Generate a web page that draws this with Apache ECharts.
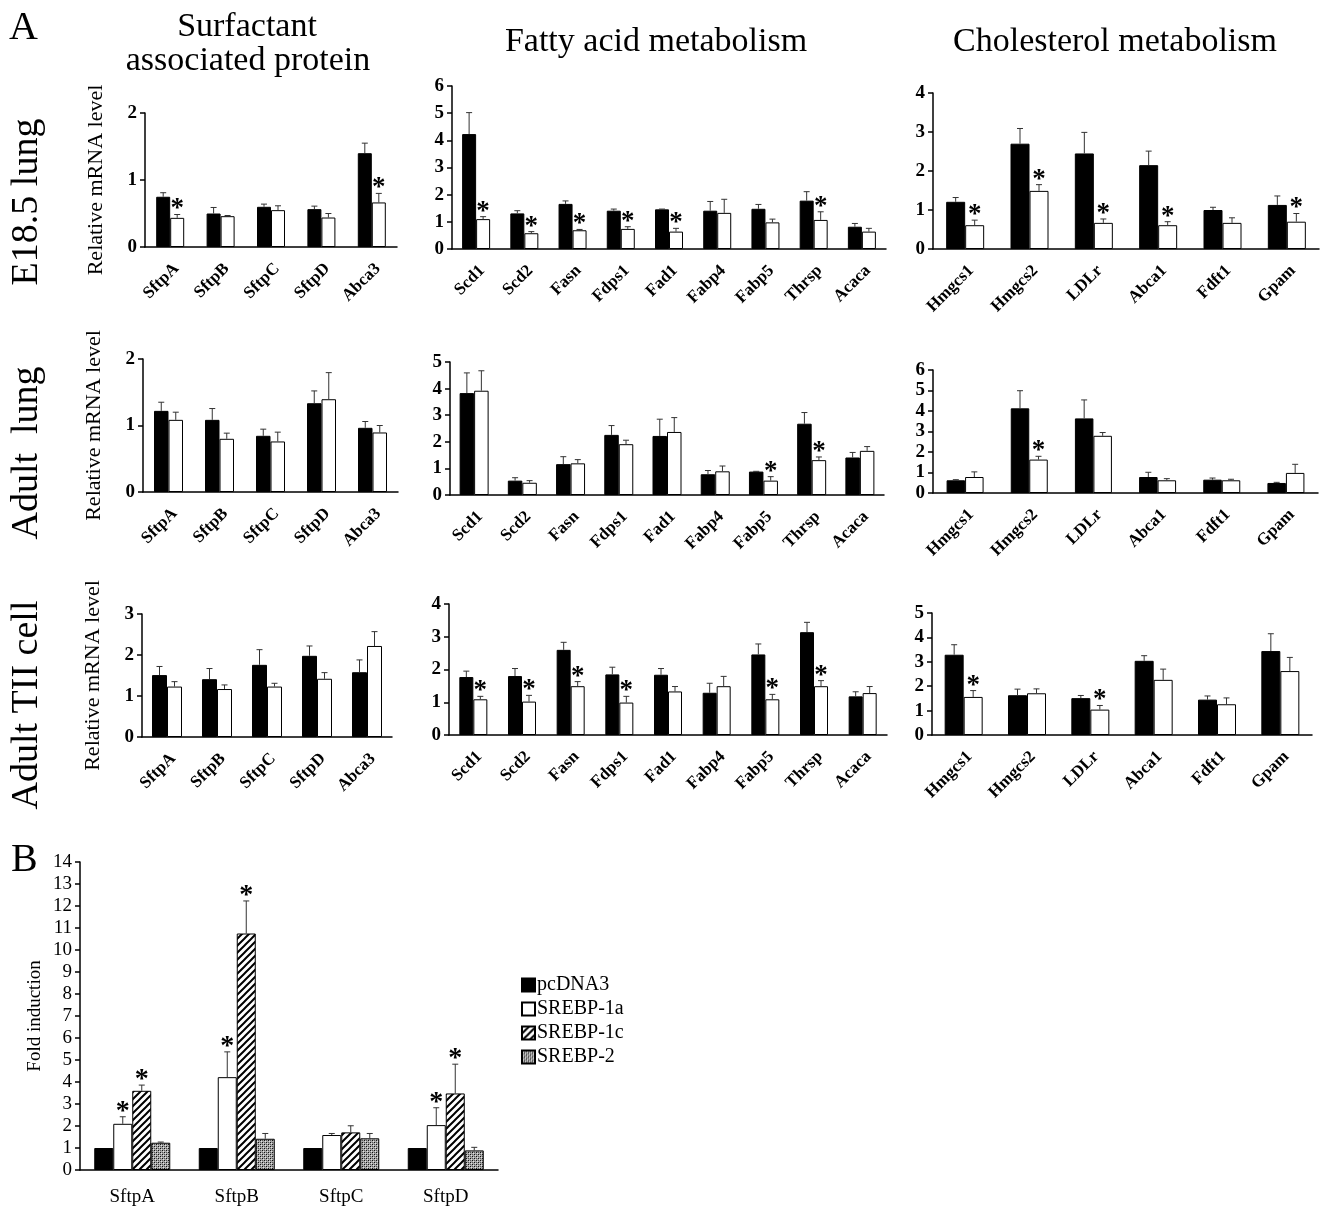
<!DOCTYPE html>
<html><head><meta charset="utf-8">
<script src="https://cdn.jsdelivr.net/npm/echarts@6/dist/echarts.min.js"></script>
<style>html,body{margin:0;padding:0;background:#fff}#c{width:1325px;height:1207px}</style>
</head><body><div id="c"></div>
<script>
// ---------- categories ----------
const surfGenes = ['SftpA', 'SftpB', 'SftpC', 'SftpD', 'Abca3'];
const fattyGenes = ['Scd1', 'Scd2', 'Fasn', 'Fdps1', 'Fad1', 'Fabp4', 'Fabp5', 'Thrsp', 'Acaca'];
const cholGenes = ['Hmgcs1', 'Hmgcs2', 'LDLr', 'Abca1', 'Fdft1', 'Gpam'];

// ---------- E18.5 lung ----------
const e18SurfCtrl = [0.75, 0.50, 0.60, 0.565, 1.40];
const e18SurfCtrlErr = [0.06, 0.09, 0.04, 0.045, 0.15];
const e18SurfKO = [0.435, 0.46, 0.55, 0.44, 0.665];
const e18SurfKOErr = [0.05, 0.01, 0.065, 0.06, 0.135];
const e18SurfStar = [1, 0, 0, 0, 1];

const e18FatCtrl = [4.23, 1.31, 1.66, 1.41, 1.46, 1.41, 1.48, 1.78, 0.82];
const e18FatCtrlErr = [0.79, 0.10, 0.11, 0.06, 0.01, 0.34, 0.16, 0.33, 0.12];
const e18FatKO = [1.10, 0.58, 0.69, 0.74, 0.64, 1.33, 0.98, 1.07, 0.64];
const e18FatKOErr = [0.09, 0.06, 0.03, 0.08, 0.12, 0.50, 0.12, 0.30, 0.12];
const e18FatStar = [1, 1, 1, 1, 1, 0, 0, 1, 0];

const e18CholCtrl = [1.21, 2.70, 2.45, 2.15, 1.00, 1.13];
const e18CholCtrlErr = [0.11, 0.39, 0.54, 0.36, 0.07, 0.23];
const e18CholKO = [0.61, 1.49, 0.67, 0.61, 0.67, 0.70];
const e18CholKOErr = [0.13, 0.16, 0.10, 0.09, 0.13, 0.21];
const e18CholStar = [1, 1, 1, 1, 0, 1];

// ---------- Adult lung ----------
const adSurfCtrl = [1.22, 1.085, 0.845, 1.335, 0.965];
const adSurfCtrlErr = [0.13, 0.17, 0.10, 0.185, 0.095];
const adSurfKO = [1.085, 0.80, 0.76, 1.395, 0.895];
const adSurfKOErr = [0.115, 0.085, 0.14, 0.40, 0.105];
const adSurfStar = [0, 0, 0, 0, 0];

const adFatCtrl = [3.83, 0.54, 1.16, 2.26, 2.22, 0.78, 0.88, 2.68, 1.41];
const adFatCtrlErr = [0.76, 0.11, 0.28, 0.35, 0.63, 0.14, 0.01, 0.42, 0.19];
const adFatKO = [3.92, 0.46, 1.19, 1.91, 2.37, 0.89, 0.54, 1.31, 1.66];
const adFatKOErr = [0.75, 0.08, 0.14, 0.15, 0.54, 0.20, 0.15, 0.12, 0.16];
const adFatStar = [0, 0, 0, 0, 0, 0, 1, 1, 0];

const adCholCtrl = [0.62, 4.13, 3.64, 0.78, 0.65, 0.49];
const adCholCtrlErr = [0.03, 0.86, 0.90, 0.23, 0.08, 0.03];
const adCholKO = [0.78, 1.63, 2.79, 0.62, 0.62, 0.98];
const adCholKOErr = [0.25, 0.16, 0.16, 0.08, 0.05, 0.42];
const adCholStar = [0, 1, 0, 0, 0, 0];

// ---------- Adult TII cell ----------
const tiiSurfCtrl = [1.51, 1.41, 1.76, 1.98, 1.58];
const tiiSurfCtrlErr = [0.21, 0.26, 0.37, 0.24, 0.30];
const tiiSurfKO = [1.23, 1.17, 1.23, 1.42, 2.22];
const tiiSurfKOErr = [0.12, 0.10, 0.08, 0.15, 0.35];
const tiiSurfStar = [0, 0, 0, 0, 0];

const tiiFatCtrl = [1.77, 1.80, 2.60, 1.85, 1.84, 1.29, 2.46, 3.14, 1.18];
const tiiFatCtrlErr = [0.18, 0.23, 0.23, 0.22, 0.19, 0.29, 0.32, 0.30, 0.14];
const tiiFatKO = [1.09, 1.02, 1.49, 0.99, 1.33, 1.49, 1.09, 1.49, 1.28];
const tiiFatKOErr = [0.09, 0.19, 0.14, 0.19, 0.15, 0.30, 0.15, 0.17, 0.20];
const tiiFatStar = [1, 1, 1, 1, 0, 0, 1, 1, 0];

const tiiCholCtrl = [3.29, 1.63, 1.51, 3.04, 1.45, 3.44];
const tiiCholCtrlErr = [0.41, 0.25, 0.11, 0.21, 0.15, 0.71];
const tiiCholKO = [1.56, 1.71, 1.04, 2.26, 1.26, 2.62];
const tiiCholKOErr = [0.26, 0.18, 0.17, 0.44, 0.26, 0.56];
const tiiCholStar = [1, 0, 1, 0, 0, 0];

// ---------- Panel B ----------
const bGenes = ['SftpA', 'SftpB', 'SftpC', 'SftpD'];
const bSeriesNames = ['pcDNA3', 'SREBP-1a', 'SREBP-1c', 'SREBP-2'];
const bPcDNA3 = [1.0, 1.0, 1.0, 1.0];
const bPcDNA3Err = [0, 0, 0, 0];
const bSrebp1a = [2.10, 4.22, 1.59, 2.04];
const bSrebp1aErr = [0.32, 1.15, 0.07, 0.79];
const bSrebp1c = [3.60, 10.75, 1.71, 3.48];
const bSrebp1cErr = [0.26, 1.48, 0.30, 1.33];
const bSrebp2 = [1.24, 1.42, 1.44, 0.89];
const bSrebp2Err = [0.03, 0.24, 0.22, 0.14];
const bStar1a = [1, 1, 0, 1];
const bStar1c = [1, 1, 0, 1];

// ---------- layout (positions / styles only) ----------
const SERIF = '"Liberation Serif", "DejaVu Serif", serif';
const panelsA = [
  { genes: surfGenes, c: e18SurfCtrl, ce: e18SurfCtrlErr, k: e18SurfKO, ke: e18SurfKOErr, s: e18SurfStar, max: 2, g: { left: 145, top: 113, width: 252, height: 134 }, bw: 14, yName: true },
  { genes: fattyGenes, c: e18FatCtrl, ce: e18FatCtrlErr, k: e18FatKO, ke: e18FatKOErr, s: e18FatStar, max: 6, g: { left: 452, top: 86, width: 434, height: 163 }, bw: 14 },
  { genes: cholGenes, c: e18CholCtrl, ce: e18CholCtrlErr, k: e18CholKO, ke: e18CholKOErr, s: e18CholStar, max: 4, g: { left: 933, top: 93, width: 386, height: 156 }, bw: 19 },
  { genes: surfGenes, c: adSurfCtrl, ce: adSurfCtrlErr, k: adSurfKO, ke: adSurfKOErr, s: adSurfStar, max: 2, g: { left: 143, top: 359, width: 255, height: 133 }, bw: 14.5, yName: true },
  { genes: fattyGenes, c: adFatCtrl, ce: adFatCtrlErr, k: adFatKO, ke: adFatKOErr, s: adFatStar, max: 5, g: { left: 450, top: 362, width: 434, height: 133 }, bw: 14.5 },
  { genes: cholGenes, c: adCholCtrl, ce: adCholCtrlErr, k: adCholKO, ke: adCholKOErr, s: adCholStar, max: 6, g: { left: 933, top: 370, width: 385, height: 123 }, bw: 18.5 },
  { genes: surfGenes, c: tiiSurfCtrl, ce: tiiSurfCtrlErr, k: tiiSurfKO, ke: tiiSurfKOErr, s: tiiSurfStar, max: 3, g: { left: 142, top: 614, width: 250, height: 123 }, bw: 15, yName: true },
  { genes: fattyGenes, c: tiiFatCtrl, ce: tiiFatCtrlErr, k: tiiFatKO, ke: tiiFatKOErr, s: tiiFatStar, max: 4, g: { left: 449, top: 604, width: 438, height: 131 }, bw: 14 },
  { genes: cholGenes, c: tiiCholCtrl, ce: tiiCholCtrlErr, k: tiiCholKO, ke: tiiCholKOErr, s: tiiCholStar, max: 5, g: { left: 932, top: 613, width: 380, height: 122 }, bw: 19 }
];

function hatchPattern() {
  const s = 7, c = document.createElement('canvas');
  c.width = s; c.height = s;
  const g = c.getContext('2d');
  g.fillStyle = '#fff'; g.fillRect(0, 0, s, s);
  g.strokeStyle = '#000'; g.lineWidth = 2;
  g.beginPath();
  g.moveTo(-1, s + 1); g.lineTo(s + 1, -1);
  g.moveTo(-1, 1); g.lineTo(1, -1);
  g.moveTo(s - 1, s + 1); g.lineTo(s + 1, s - 1);
  g.stroke();
  return { image: c, repeat: 'repeat' };
}
function dotPattern() {
  const c = document.createElement('canvas');
  c.width = 4; c.height = 4;
  const g = c.getContext('2d');
  g.fillStyle = '#a8a8a8'; g.fillRect(0, 0, 4, 4);
  g.fillStyle = '#111';
  g.fillRect(0, 0, 1, 1); g.fillRect(2, 2, 1, 1);
  g.fillStyle = '#555';
  g.fillRect(2, 0, 1, 1); g.fillRect(0, 2, 1, 1);
  g.fillStyle = '#e0e0e0';
  g.fillRect(1, 1, 1, 1); g.fillRect(3, 3, 1, 1);
  return { image: c, repeat: 'repeat' };
}

function errRenderer(offsetFactor, barW, starFont, starLift) {
  return function (params, api) {
    const idx = api.value(0), v = api.value(1), e = api.value(2), star = api.value(3);
    const base = api.coord([idx, v]);
    const top = api.coord([idx, v + e]);
    const cx = base[0] + offsetFactor * barW;
    const children = [];
    if (e > 0) {
      children.push(
        { type: 'line', shape: { x1: cx, y1: base[1], x2: cx, y2: top[1] }, style: { stroke: '#333', lineWidth: 1 } },
        { type: 'line', shape: { x1: cx - 3, y1: top[1], x2: cx + 3, y2: top[1] }, style: { stroke: '#333', lineWidth: 1 } }
      );
    }
    if (star) {
      children.push({ type: 'text', x: cx, y: top[1] - starLift,
        style: { text: '*', font: starFont, fill: '#000', align: 'center', verticalAlign: 'middle' } });
    }
    return { type: 'group', children };
  };
}

const grids = [], xAxes = [], yAxes = [], series = [];
panelsA.forEach((p, i) => {
  grids.push(Object.assign({ containLabel: false }, p.g));
  xAxes.push({
    type: 'category', gridIndex: i, data: p.genes,
    axisLine: { lineStyle: { color: '#000', width: 1.5 } },
    axisTick: { show: false },
    axisLabel: { rotate: 45, margin: 13, verticalAlign: 'top', color: '#000', fontFamily: SERIF, fontWeight: 'bold', fontSize: 17, interval: 0 }
  });
  yAxes.push({
    type: 'value', gridIndex: i, min: 0, max: p.max, interval: 1,
    name: p.yName ? 'Relative mRNA level' : '', nameLocation: 'middle', nameGap: 38,
    nameTextStyle: { fontFamily: SERIF, fontSize: 22, color: '#000' },
    splitLine: { show: false },
    axisLine: { show: true, lineStyle: { color: '#000', width: 1.5 } },
    axisTick: { show: true, length: 5, lineStyle: { color: '#000', width: 1.5 } },
    axisLabel: { margin: 8, color: '#000', fontFamily: SERIF, fontWeight: 'bold', fontSize: 19,
      showMinLabel: true, showMaxLabel: true, hideOverlap: false }
  });
  series.push({
    type: 'bar', xAxisIndex: i, yAxisIndex: i, data: p.c, barWidth: p.bw, barGap: '0%',
    itemStyle: { color: '#000', borderColor: '#000', borderWidth: 1 }, silent: true
  });
  series.push({
    type: 'bar', xAxisIndex: i, yAxisIndex: i, data: p.k, barWidth: p.bw, barGap: '0%',
    itemStyle: { color: '#fff', borderColor: '#000', borderWidth: 1 }, silent: true
  });
  series.push({
    type: 'custom', xAxisIndex: i, yAxisIndex: i, z: 5, silent: true,
    renderItem: errRenderer(-0.5, p.bw, 'bold 27px ' + SERIF, 5),
    data: p.genes.map((g, j) => [j, p.c[j], p.ce[j], 0])
  });
  series.push({
    type: 'custom', xAxisIndex: i, yAxisIndex: i, z: 5, silent: true,
    renderItem: errRenderer(0.5, p.bw, 'bold 27px ' + SERIF, 5),
    data: p.genes.map((g, j) => [j, p.k[j], p.ke[j], p.s[j]])
  });
});

// Panel B
const bi = panelsA.length;
const bBW = 19;
grids.push({ left: 80, top: 862, width: 418, height: 308, containLabel: false });
xAxes.push({
  type: 'category', gridIndex: bi, data: bGenes,
  axisLine: { lineStyle: { color: '#000', width: 1.5 } },
  axisTick: { show: false },
  axisLabel: { margin: 18, color: '#000', fontFamily: SERIF, fontSize: 19 }
});
yAxes.push({
  type: 'value', gridIndex: bi, min: 0, max: 14, interval: 1,
  name: 'Fold induction', nameLocation: 'middle', nameGap: 35,
  nameTextStyle: { fontFamily: SERIF, fontSize: 19, color: '#000' },
  splitLine: { show: false },
  axisLine: { show: true, lineStyle: { color: '#000', width: 1.5 } },
  axisTick: { show: true, length: 5, lineStyle: { color: '#000', width: 1.5 } },
  axisLabel: { margin: 8, color: '#000', fontFamily: SERIF, fontSize: 19,
    showMinLabel: true, showMaxLabel: true, hideOverlap: false }
});
const bVals = [bPcDNA3, bSrebp1a, bSrebp1c, bSrebp2];
const bErrs = [bPcDNA3Err, bSrebp1aErr, bSrebp1cErr, bSrebp2Err];
const bStars = [[0, 0, 0, 0], bStar1a, bStar1c, [0, 0, 0, 0]];
const bColors = ['#000', '#fff', hatchPattern(), dotPattern()];
bVals.forEach((vals, k) => {
  series.push({
    name: bSeriesNames[k], type: 'bar', xAxisIndex: bi, yAxisIndex: bi, data: vals,
    barWidth: bBW, barGap: '0%', silent: true,
    itemStyle: { color: bColors[k], borderColor: '#000', borderWidth: 1 }
  });
});
bVals.forEach((vals, k) => {
  series.push({
    type: 'custom', xAxisIndex: bi, yAxisIndex: bi, z: 5, silent: true,
    renderItem: errRenderer(k - 1.5, bBW, 'bold 28px ' + SERIF, 5),
    data: bGenes.map((g, j) => [j, vals[j], bErrs[k][j], bStars[k][j]])
  });
});

const chart = echarts.init(document.getElementById('c'), null, { renderer: 'canvas' });
chart.setOption({
  animation: false,
  backgroundColor: '#fff',
  grid: grids, xAxis: xAxes, yAxis: yAxes, series: series,
  legend: {
    data: bSeriesNames, orient: 'vertical', left: 516, top: 970,
    itemWidth: 13, itemHeight: 13, itemGap: 4, icon: 'rect',
    textStyle: { fontFamily: SERIF, fontSize: 20, color: '#000', padding: [0, 0, 0, -3] },
    selectedMode: false
  },
  graphic: [
    { type: 'text', left: 9, top: 8, style: { text: 'A', font: '40px ' + SERIF, fill: '#000' } },
    { type: 'text', left: 11, top: 840, style: { text: 'B', font: '40px ' + SERIF, fill: '#000' } },
    { type: 'text', x: 247, y: 27, style: { text: 'Surfactant', font: '34px ' + SERIF, fill: '#000', align: 'center', verticalAlign: 'middle' } },
    { type: 'text', x: 248, y: 61, style: { text: 'associated protein', font: '34px ' + SERIF, fill: '#000', align: 'center', verticalAlign: 'middle' } },
    { type: 'text', x: 656, y: 42, style: { text: 'Fatty acid metabolism', font: '34px ' + SERIF, fill: '#000', align: 'center', verticalAlign: 'middle' } },
    { type: 'text', x: 1115, y: 42, style: { text: 'Cholesterol metabolism', font: '34px ' + SERIF, fill: '#000', align: 'center', verticalAlign: 'middle' } },
    { type: 'text', x: 27, y: 202, rotation: Math.PI / 2, style: { text: 'E18.5 lung', font: '38px ' + SERIF, fill: '#000', align: 'center', verticalAlign: 'middle' } },
    { type: 'text', x: 27, y: 453, rotation: Math.PI / 2, style: { text: 'Adult  lung', font: '38px ' + SERIF, fill: '#000', align: 'center', verticalAlign: 'middle' } },
    { type: 'text', x: 27, y: 705, rotation: Math.PI / 2, style: { text: 'Adult TII cell', font: '38px ' + SERIF, fill: '#000', align: 'center', verticalAlign: 'middle' } }
  ]
});
</script>
</body></html>
